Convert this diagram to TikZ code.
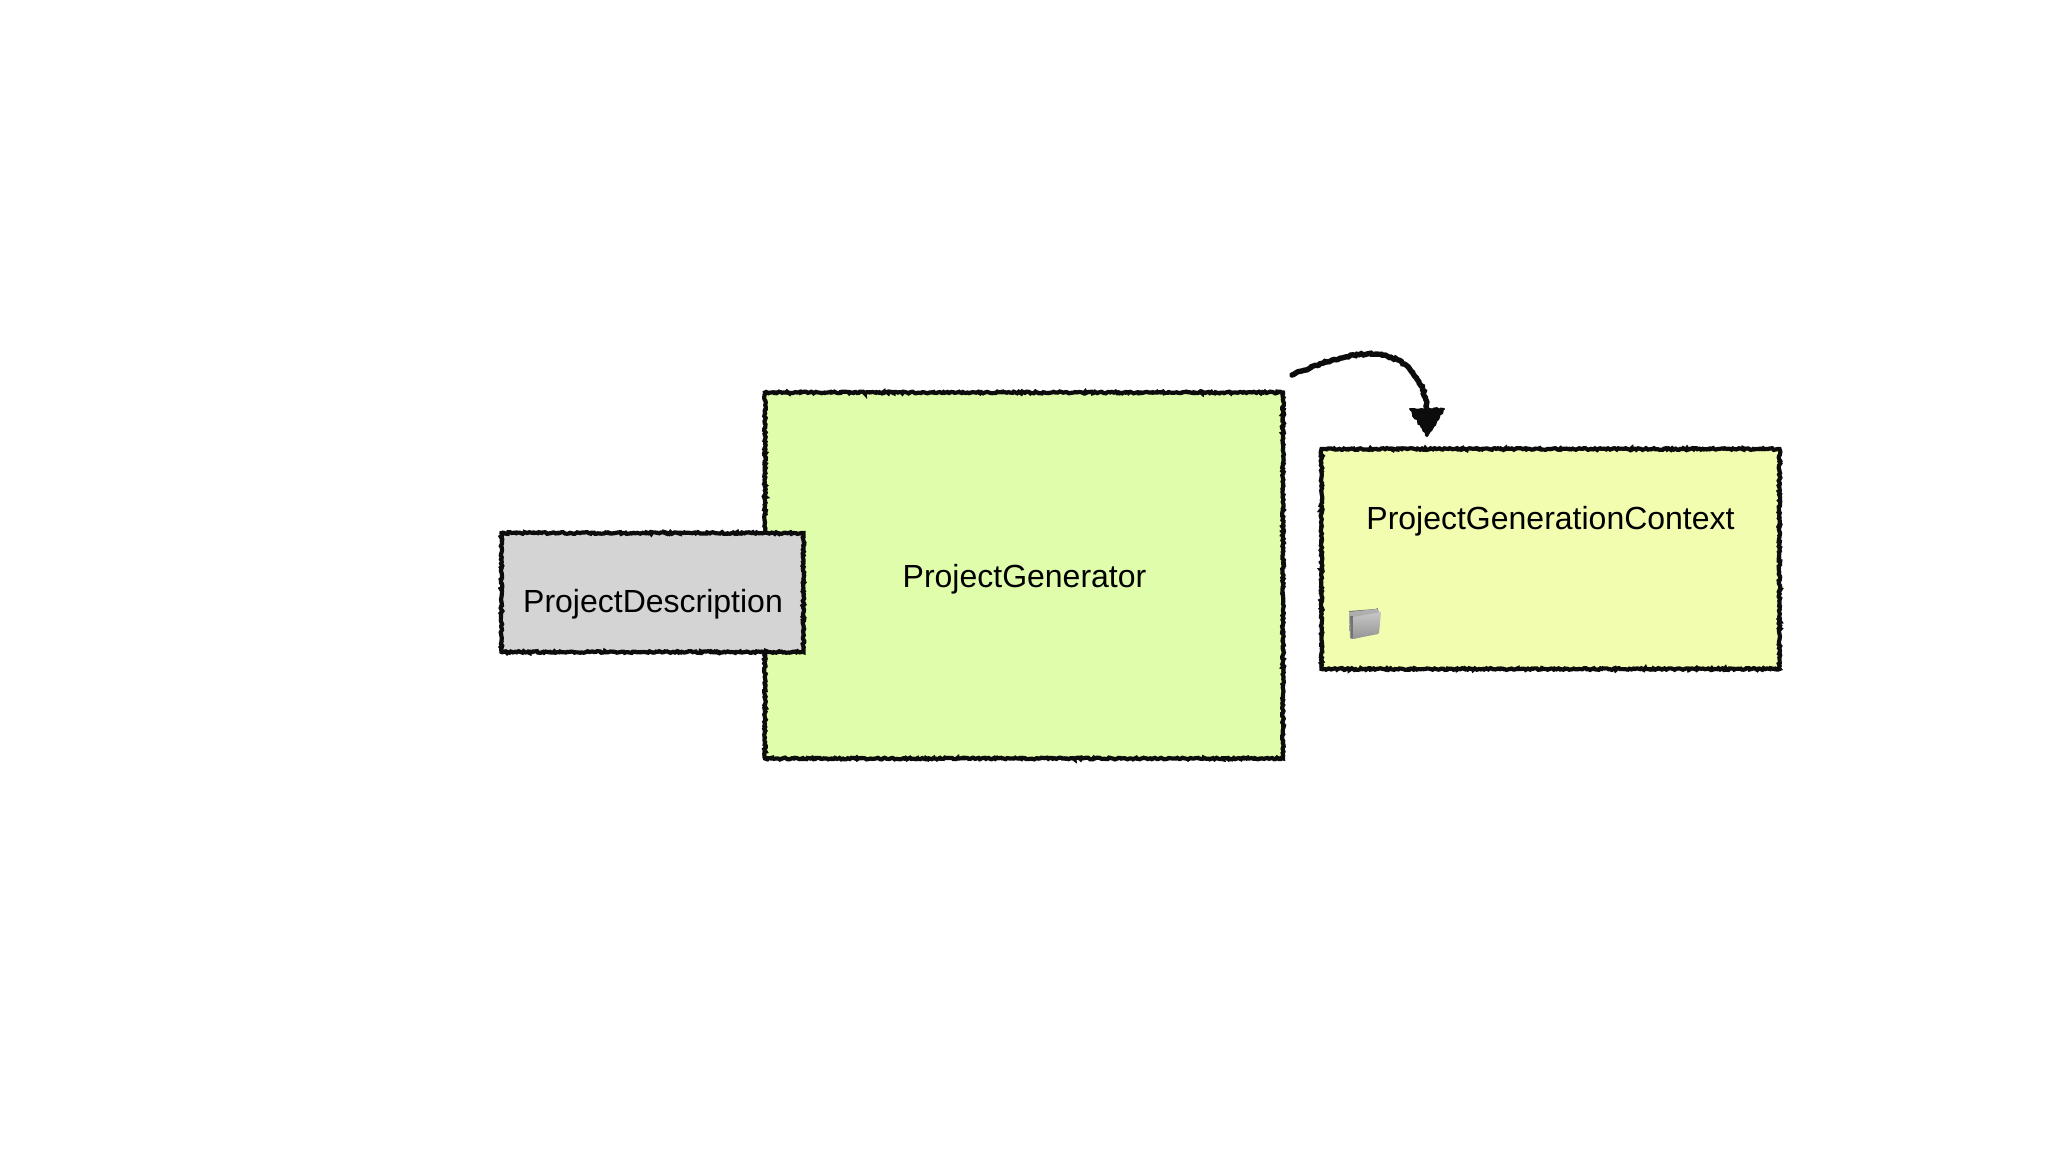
\documentclass[tikz,border=0pt]{standalone}
\usepackage{fontspec}
\setmainfont{Liberation Sans}
\usetikzlibrary{decorations.pathmorphing,calc,positioning}
\definecolor{gengreen}{HTML}{E0FDAC}
\definecolor{ctxyellow}{HTML}{F2FDB0}
\definecolor{descgrey}{HTML}{D4D4D4}
\definecolor{inkblack}{HTML}{0C0C0C}
\pgfmathsetseed{4711}
\tikzset{
  x=1pt,y=-1pt,
  roughbox/.style={draw=inkblack,line width=4.2pt,inner sep=0pt,
    decorate,decoration={random steps,segment length=1.6pt,amplitude=0.9pt}},
  caption/.style={inner sep=0pt,text=black,font=\fontsize{32}{38}\selectfont},
  roughline/.style={draw=inkblack,line width=5.4pt,line cap=round,
    decorate,decoration={random steps,segment length=2.2pt,amplitude=0.9pt}},
  roughtip/.style={fill=inkblack,draw=inkblack,line width=2pt,line join=round,
    decorate,decoration={random steps,segment length=2.2pt,amplitude=1.1pt}},
}
\begin{document}
\begin{tikzpicture}
\useasboundingbox[fill=white] (0,0) rectangle (2048,1152);
% boxes
\node[roughbox,fill=gengreen,minimum width=518pt,minimum height=366pt] (gen) at (1024,575.5) {};
\node[roughbox,fill=ctxyellow,minimum width=458pt,minimum height=220pt] (ctx) at (1550.5,559) {};
\node[roughbox,fill=descgrey,minimum width=302pt,minimum height=119pt] (desc) at (652.5,592.5) {};
% labels
\node[caption] (gentext) at (1024.5,579.5) {ProjectGenerator};
\node[caption] (ctxtext) at (1550.5,521) {ProjectGenerationContext};
\node[caption] (desctext) at (653,604.5) {ProjectDescription};
% arrow
\coordinate (arrowstart) at (1292,375);
\coordinate (arrowend) at (1427,410);
\draw[roughline] (arrowstart) .. controls (1332,358) and (1362,350) .. (1387,356)
   .. controls (1413,363) and (1426,388) .. (arrowend);
\path[roughtip] (1410,409) -- (1444,409) -- (1427,436) -- cycle;
% folder icon
\fill[black!55] (1349,611) -- (1375,609) -- (1378,608) -- (1377,612) -- (1350,620) -- cycle;
\shade[top color=black!30,bottom color=black!42] (1349,612) -- (1377,609) -- (1379,611) -- (1379,630) -- (1378,634) -- (1352,639) -- (1350,638) -- cycle;
\fill[black!55] (1350,616) -- (1353,616) -- (1353,638) -- (1351,638) -- cycle;
\shade[top color=black!22,bottom color=black!42] (1353,617) -- (1381,612) -- (1379,633) -- (1353,639) -- cycle;
\end{tikzpicture}
\end{document}
